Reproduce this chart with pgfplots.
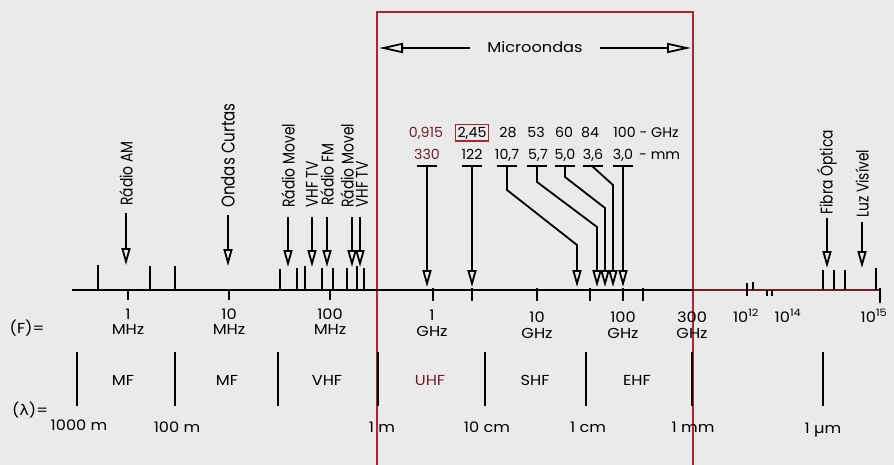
\documentclass[border=0pt]{standalone}
\usepackage{fontspec}
\setmainfont{Poppins}
\newfontfamily\txtfont[FakeStretch=1.12]{Poppins}
\newfontfamily\numfont[FakeStretch=1.02]{Poppins}
\newfontfamily\labfont[FakeStretch=0.82]{Poppins}
\newfontfamily\symfont[FakeStretch=1.12]{DejaVu Sans}
\usepackage{pgfplots}
\pgfplotsset{compat=1.18}
\usetikzlibrary{arrows.meta}
\definecolor{bg}{RGB}{234,234,234}
\definecolor{boxred}{RGB}{175,35,50}
\definecolor{maroon}{RGB}{115,30,40}
\tikzset{
  tip/.style={-{Triangle[open,length=17bp,width=9bp]}},
  bigtip/.style={-{Triangle[open,length=24bp,width=10bp]}},
  txt/.style={font=\txtfont\fontsize{14.5}{16}\selectfont, inner sep=0pt},
  num/.style={font=\numfont\fontsize{14}{16}\selectfont, inner sep=0pt, anchor=base},
  rot/.style={font=\labfont\fontsize{17}{19}\selectfont, inner sep=0pt, rotate=90, anchor=west},
}

\begin{document}
\begin{tikzpicture}
\begin{axis}[
  width=894bp, height=465bp, scale only axis,
  xmin=0, xmax=894, ymin=0, ymax=465, y dir=reverse,
  axis line style={draw=none}, ticks=none, clip=false,
  axis background/.style={fill=bg},
  unbounded coords=jump,
  cycle list={{black, no markers}},
  every axis plot/.append style={line width=1.8bp, no markers},
]
% red microwave box
\addplot[boxred, line width=2bp] coordinates {(377,465) (377,12) (693,12) (693,465)};
\addplot[bigtip] coordinates {(470,48) (379,48)};
\addplot[bigtip] coordinates {(600,48) (691,48)};
\node[txt, anchor=base] at (axis cs:535,53) {Microondas};

% frequency axis
\addplot coordinates {(72,290) (693,290)};
\addplot[maroon] coordinates {(693,290) (880,290)};

% marks above the axis
\addplot coordinates {
  (98,290) (98,265) (nan,nan) (150,290) (150,266) (nan,nan) (175,290) (175,266) (nan,nan)
  (280,290) (280,269) (nan,nan) (297,290) (297,268) (nan,nan) (305,290) (305,266) (nan,nan)
  (322,290) (322,268) (nan,nan) (333,290) (333,268) (nan,nan) (347,290) (347,268) (nan,nan)
  (357,290) (357,266) (nan,nan) (364,290) (364,268) (nan,nan) (753,290) (753,282) (nan,nan)
  (823,290) (823,270) (nan,nan) (834,290) (834,270) (nan,nan) (845,290) (845,270) (nan,nan)
  (876,290) (876,268)
};
% marks below the axis
\addplot coordinates {
  (128,290) (128,300) (nan,nan) (229,290) (229,300) (nan,nan) (330,290) (330,300) (nan,nan)
  (433,288) (433,301) (nan,nan) (472,288) (472,301) (nan,nan) (537,288) (537,301) (nan,nan)
  (590,288) (590,301) (nan,nan) (623,288) (623,301) (nan,nan) (643,288) (643,301) (nan,nan)
  (747,283) (747,296) (nan,nan) (767,290) (767,296) (nan,nan) (772,290) (772,296) (nan,nan)
  (880,288) (880,303)
};

% services
\addplot[tip] coordinates {(126,213) (126,265)};
\addplot[tip] coordinates {(228,215) (228,266)};
\addplot[tip] coordinates {(288,217) (288,267)};
\addplot[tip] coordinates {(312,217) (312,267)};
\addplot[tip] coordinates {(327,217) (327,267)};
\addplot[tip] coordinates {(352,217) (352,267)};
\addplot[tip] coordinates {(360,217) (360,267)};
\addplot[tip] coordinates {(827,218) (827,268)};
\addplot[tip] coordinates {(862,222) (862,268)};
\node[rot] at (axis cs:126,206) {Rádio AM};
\node[rot, font=\labfont\fontsize{18.5}{20}\selectfont] at (axis cs:228,208) {Ondas Curtas};
\node[rot] at (axis cs:288,208) {Rádio Movel};
\node[rot] at (axis cs:312,208) {VHF TV};
\node[rot] at (axis cs:327,206) {Rádio FM};
\node[rot] at (axis cs:347,208) {Rádio Movel};
\node[rot] at (axis cs:362,208) {VHF TV};
\node[rot] at (axis cs:827,215) {Fibra Óptica};
\node[rot] at (axis cs:862,218) {Luz Visível};

% microwave allocations
\addplot coordinates {
  (417,166) (437,166) (nan,nan) (462,166) (482,166) (nan,nan) (497,166) (517,166) (nan,nan)
  (527,166) (547,166) (nan,nan) (555,166) (575,166) (nan,nan) (583,166) (603,166) (nan,nan)
  (613,166) (633,166)
};
\addplot[tip] coordinates {(427,166) (427,287)};
\addplot[tip] coordinates {(472,166) (472,287)};
\addplot[tip] coordinates {(507,166) (507,190) (577,245) (577,287)};
\addplot[tip] coordinates {(537,166) (537,182) (597,227) (597,287)};
\addplot[tip] coordinates {(565,166) (565,177) (605,208) (605,287)};
\addplot[tip] coordinates {(592,166) (613,185) (613,287)};
\addplot[tip] coordinates {(623,166) (623,287)};

\node[num, maroon] at (axis cs:426,137) {0,915};
\node[num, draw=boxred, line width=1.2bp, inner sep=2bp] at (axis cs:472,137) {2,45};
\node[num] at (axis cs:508,137) {28};
\node[num] at (axis cs:536,137) {53};
\node[num] at (axis cs:564,137) {60};
\node[num] at (axis cs:590,137) {84};
\node[num] at (axis cs:646,137) {100 - GHz};
\node[num, maroon] at (axis cs:427,159) {330};
\node[num] at (axis cs:472,159) {122};
\node[num] at (axis cs:507,159) {10,7};
\node[num] at (axis cs:538,159) {5,7};
\node[num] at (axis cs:565,159) {5,0};
\node[num] at (axis cs:593,159) {3,6};
\node[num] at (axis cs:623,159) {3,0};
\node[num, anchor=base west] at (axis cs:639,159) {- mm};

% frequency labels
\node[txt, anchor=base] at (axis cs:27,333) {(F)=};
\node[txt, anchor=base] at (axis cs:128,319) {1};
\node[txt, anchor=base] at (axis cs:128,334) {MHz};
\node[txt, anchor=base] at (axis cs:229,319) {10};
\node[txt, anchor=base] at (axis cs:229,334) {MHz};
\node[txt, anchor=base] at (axis cs:330,319) {100};
\node[txt, anchor=base] at (axis cs:330,334) {MHz};
\node[txt, anchor=base] at (axis cs:432,320) {1};
\node[txt, anchor=base] at (axis cs:432,336) {GHz};
\node[txt, anchor=base] at (axis cs:537,322) {10};
\node[txt, anchor=base] at (axis cs:537,338) {GHz};
\node[txt, anchor=base] at (axis cs:623,322) {100};
\node[txt, anchor=base] at (axis cs:623,338) {GHz};
\node[txt, anchor=base] at (axis cs:692,322) {300};
\node[txt, anchor=base] at (axis cs:692,338) {GHz};
\node[txt, anchor=base] at (axis cs:746,322) {10\textsuperscript{12}};
\node[txt, anchor=base] at (axis cs:788,322) {10\textsuperscript{14}};
\node[txt, anchor=base] at (axis cs:874,322) {10\textsuperscript{15}};

% bands
\addplot[line width=2.6bp] coordinates {
  (77,352) (77,406) (nan,nan) (175,352) (175,406) (nan,nan) (278,352) (278,406) (nan,nan)
  (378,352) (378,406) (nan,nan) (485,352) (485,406) (nan,nan) (586,352) (586,406) (nan,nan)
  (692,352) (692,406) (nan,nan) (823,352) (823,406)
};
\node[txt, anchor=base] at (axis cs:123,385) {MF};
\node[txt, anchor=base] at (axis cs:227,385) {MF};
\node[txt, anchor=base] at (axis cs:327,385) {VHF};
\node[txt, anchor=base, maroon] at (axis cs:430,385) {UHF};
\node[txt, anchor=base] at (axis cs:535,385) {SHF};
\node[txt, anchor=base] at (axis cs:637,385) {EHF};

% wavelength labels
\node[txt, anchor=base] at (axis cs:30,415) {({\symfont λ})=};
\node[txt, anchor=base] at (axis cs:79,430) {1000 m};
\node[txt, anchor=base] at (axis cs:177,432) {100 m};
\node[txt, anchor=base] at (axis cs:382,432) {1 m};
\node[txt, anchor=base] at (axis cs:487,432) {10 cm};
\node[txt, anchor=base] at (axis cs:588,432) {1 cm};
\node[txt, anchor=base] at (axis cs:693,432) {1 mm};
\node[txt, anchor=base] at (axis cs:823,433) {1 µm};
\end{axis}
\pgfresetboundingbox
\useasboundingbox (0,0) rectangle (894bp,465bp);
\end{tikzpicture}
\end{document}
